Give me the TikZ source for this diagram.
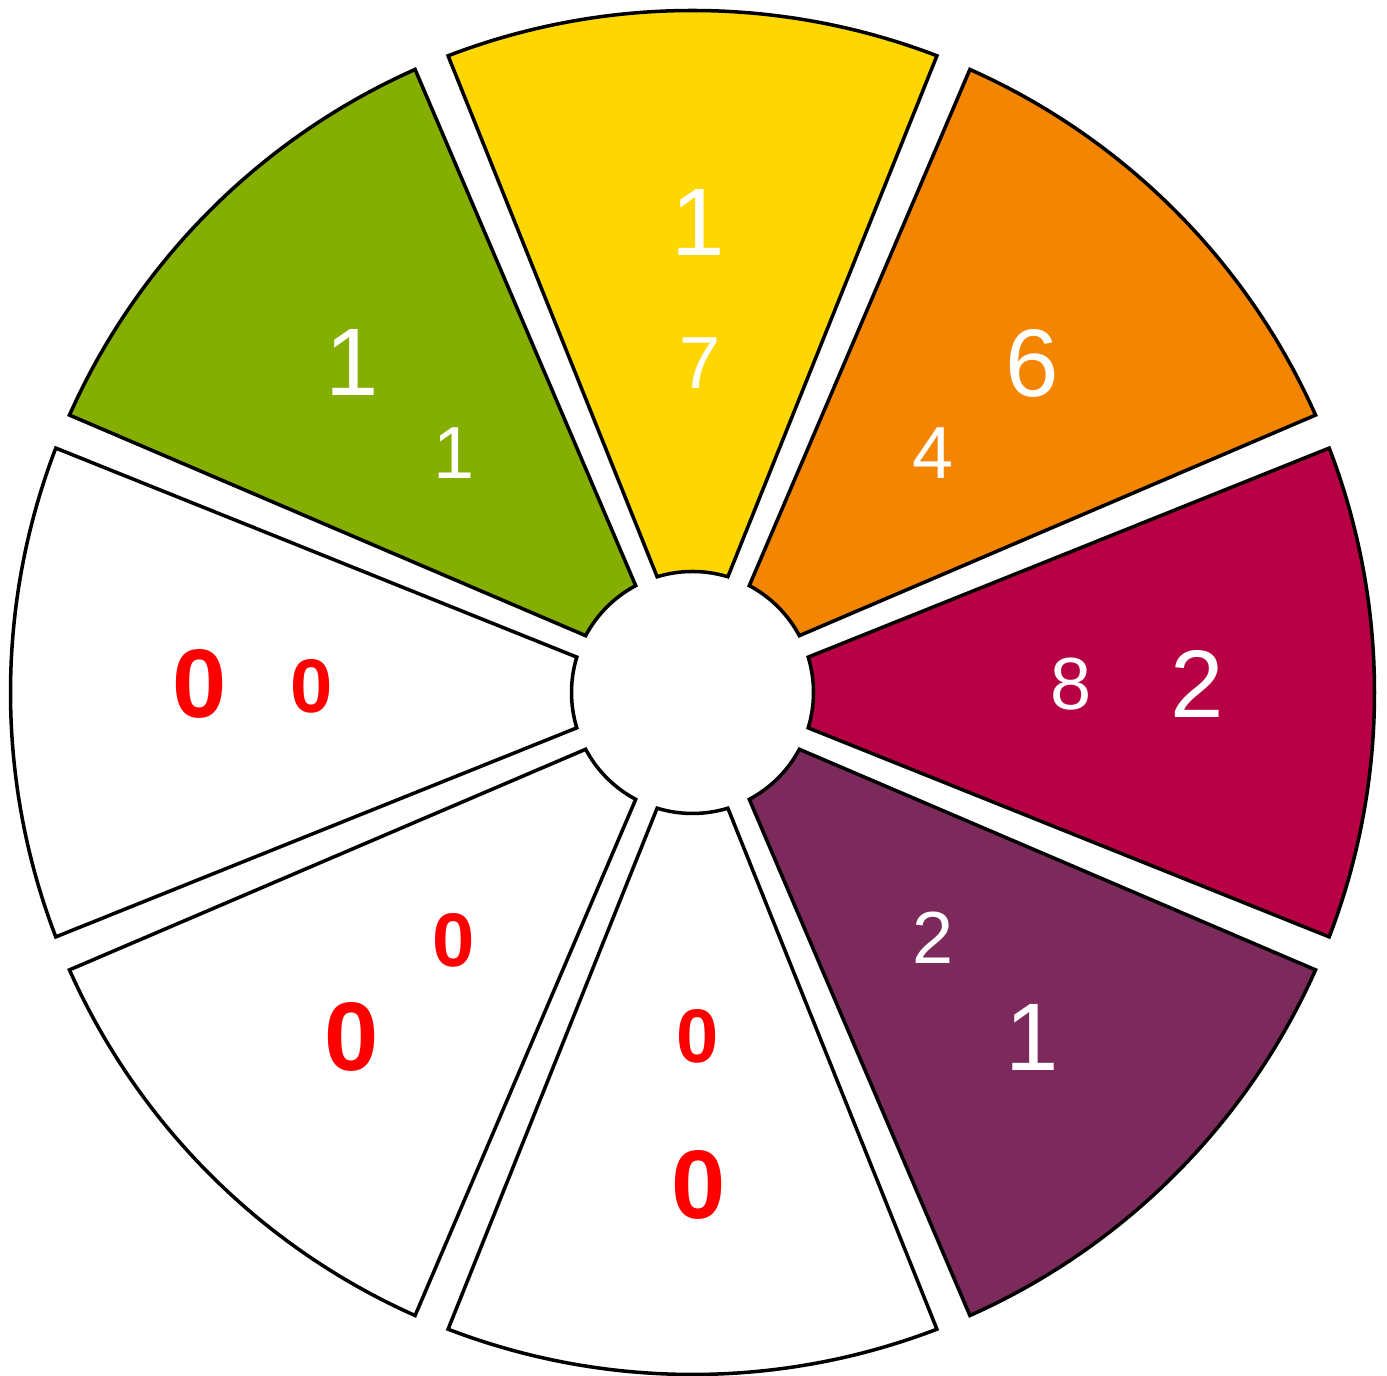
\documentclass[tikz,border=0pt]{standalone}
\usepackage{fontspec}
\setmainfont{Liberation Sans}
\definecolor{cyellow}{RGB}{255,215,0}
\definecolor{corange}{RGB}{243,133,0}
\definecolor{ccrimson}{RGB}{184,0,69}
\definecolor{cpurple}{RGB}{123,42,91}
\definecolor{cgreen}{RGB}{132,174,0}
\definecolor{cred}{RGB}{255,0,0}
\tikzset{
  sector/.style={draw=black, line width=1pt, line join=miter},
  bignum/.style={text=white, font=\fontsize{27.3}{30}\selectfont, inner sep=0pt},
  smallnum/.style={text=white, font=\fontsize{21}{24}\selectfont, inner sep=0pt},
  bigzero/.style={text=cred, font=\fontsize{27.7}{30}\selectfont\bfseries, inner sep=0pt},
  smallzero/.style={text=cred, font=\fontsize{21.6}{24}\selectfont\bfseries, inner sep=0pt},
}
\newcommand{\wheelsector}[2]{%
  \draw[sector, fill=#2] ({#1-21}:682) arc[start angle={#1-21}, end angle={#1+21}, radius=682]
    -- ({#1+17}:121) arc[start angle={#1+17}, end angle={#1-17}, radius=121] -- cycle;}
\begin{document}
\begin{tikzpicture}[x=0.01cm, y=0.01cm]
\useasboundingbox (0,0) rectangle (1387,1376);
\begin{scope}[shift={(692.5,683.5)}]
  \wheelsector{90}{cyellow}
  \wheelsector{45}{corange}
  \wheelsector{0}{ccrimson}
  \wheelsector{-45}{cpurple}
  \wheelsector{-90}{white}
  \wheelsector{-135}{white}
  \wheelsector{180}{white}
  \wheelsector{135}{cgreen}
\end{scope}
% yellow
\node[bignum] (y1) at (698,1154) {1};
\node[smallnum] (y2) at (700,1013) {7};
% orange
\node[bignum] (o1) at (1032,1013) {6};
\node[smallnum] (o2) at (933,923) {4};
% crimson
\node[bignum] (c1) at (1197,692) {2};
\node[smallnum] (c2) at (1071,692) {8};
% purple
\node[bignum] (p1) at (1032,339) {1};
\node[smallnum] (p2) at (933,438) {2};
% bottom
\node[bigzero] (b1) at (699,191) {0};
\node[smallzero] (b2) at (698,340) {0};
% lower-left
\node[bigzero] (l1) at (352,339) {0};
\node[smallzero] (l2) at (454,436) {0};
% left
\node[bigzero] (w1) at (200,692) {0};
\node[smallzero] (w2) at (312,690) {0};
% green
\node[bignum] (g1) at (352,1014) {1};
\node[smallnum] (g2) at (454,923) {1};
\end{tikzpicture}
\end{document}
